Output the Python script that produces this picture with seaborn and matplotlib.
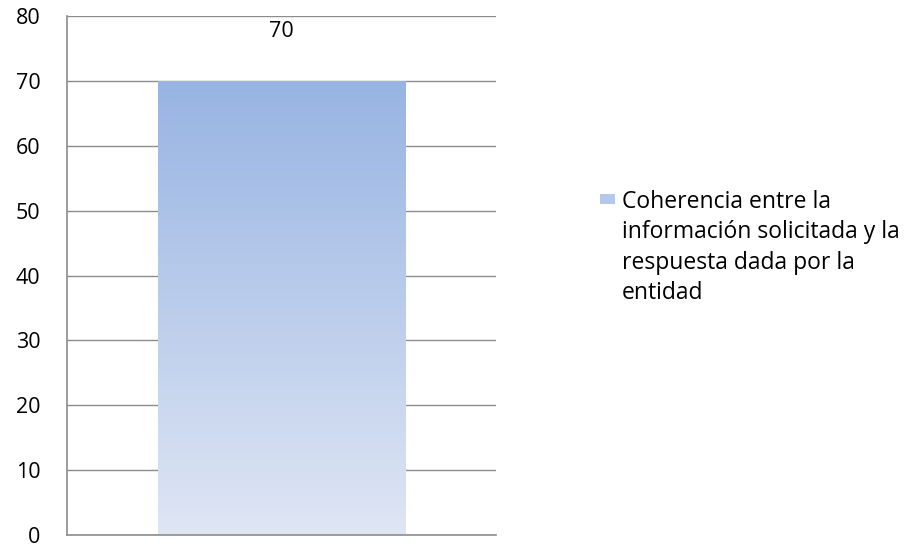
import numpy as np
import pandas as pd
import matplotlib
matplotlib.use("Agg")
import matplotlib.pyplot as plt
from matplotlib.colors import LinearSegmentedColormap
from matplotlib.patches import Rectangle
import seaborn as sns

# Data
categories = ["Coherencia"]
values = [70]
series_label = "Coherencia entre la\ninformación solicitada y la\nrespuesta dada por la\nentidad"
y_ticks = [0, 10, 20, 30, 40, 50, 60, 70, 80]

sns.set_theme(style="white")
plt.rcParams["font.family"] = ["Open Sans", "DejaVu Sans"]

df = pd.DataFrame({"cat": categories, "val": values})

fig = plt.figure(figsize=(9.08, 5.44), dpi=100)
ax = fig.add_axes([67 / 908, 9 / 544, 429 / 908, 519 / 544])

sns.barplot(data=df, x="cat", y="val", ax=ax, width=0.576,
            color="#9BB7E4", saturation=1, edgecolor="none", zorder=2)

ax.set_ylim(0, 80)
ax.set_xlim(-0.5, 0.5)
ax.set_yticks(y_ticks)
ax.set_xticks([])
ax.set_xlabel("")
ax.set_ylabel("")
ax.tick_params(axis="y", length=0, pad=19, labelsize=15.5, colors="#000000")
ax.yaxis.grid(True, color="#8C8C8C", linewidth=1.0, zorder=0)
ax.set_axisbelow(True)
for side in ["top", "right"]:
    ax.spines[side].set_visible(False)
for side in ["left", "bottom"]:
    ax.spines[side].set_color("#8C8C8C")
    ax.spines[side].set_linewidth(1.2)

# Vertical gradient fill for the bar
grad_cmap = LinearSegmentedColormap.from_list("bar_grad", ["#DFE6F4", "#97B4E3"])
gradient = np.linspace(0, 1, 256).reshape(-1, 1)
for patch in list(ax.patches):
    x0, y0 = patch.get_x(), patch.get_y()
    w, h = patch.get_width(), patch.get_height()
    patch.set_facecolor("none")
    im = ax.imshow(gradient, cmap=grad_cmap, origin="lower", aspect="auto",
                   extent=[x0, x0 + w, y0, y0 + h], zorder=2)
    im.set_clip_path(patch)
    ax.annotate(f"{values[0]}", (x0 + w / 2, y0 + h), xytext=(0, 28),
                textcoords="offset points", ha="center", va="bottom",
                fontsize=15.5, color="#000000")
ax.set_xlim(-0.5, 0.5)
ax.set_ylim(0, 80)

# Legend
fig.add_artist(Rectangle((600 / 908, 1 - 204 / 544), 15 / 908, 10 / 544,
                         transform=fig.transFigure, facecolor="#B4C8EA",
                         edgecolor="none"))
fig.text(622 / 908, 1 - 190 / 544, series_label, ha="left", va="top",
         fontsize=16.5, linespacing=1.36, color="#000000")

fig.savefig("out.png", dpi=100)
